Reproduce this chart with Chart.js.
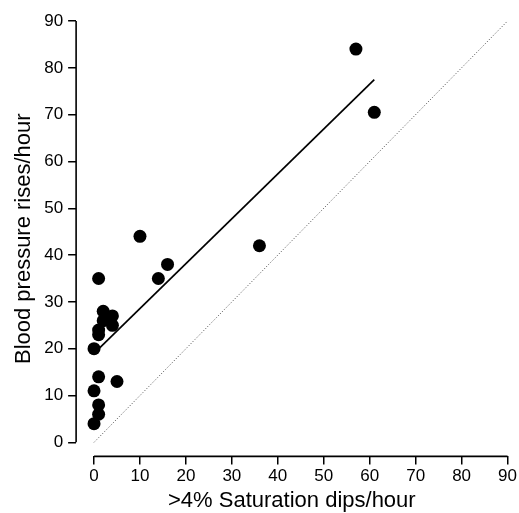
<!DOCTYPE html>
<html>
<head>
<meta charset="utf-8">
<script src="https://cdn.jsdelivr.net/npm/chart.js@4"></script>
<style>
  html, body { margin: 0; padding: 0; background: #fff; }
  #wrap { width: 519px; height: 513px; }
</style>
</head>
<body>
<div id="wrap"><canvas id="chart"></canvas></div>
<script>
// dips/hour vs BP rises/hour
const dips = [1, 2, 4, 4, 2, 1, 1, 0, 1, 5, 0, 1, 1, 0, 14, 16, 10, 36, 57, 61];
const rises = [35, 28, 27, 25, 26, 24, 23, 20, 14, 13, 11, 8, 6, 4, 35, 38, 44, 42, 84, 70.5];

// regression line ends and line of identity
const fitX = [0, 61];
const fitY = [19, 77.5];
const idX = [0, 90];
const idY = [0, 90];

const tickVals = [0, 10, 20, 30, 40, 50, 60, 70, 80, 90];

const toPts = (xs, ys) => xs.map((x, i) => ({x: x, y: ys[i]}));

// axis lines only span 0..90, detached from the data origin
const axisLines = {
  id: 'axisLines',
  afterDraw(chart) {
    const ctx = chart.ctx;
    const xs = chart.scales.x, ys = chart.scales.y;
    const area = chart.chartArea;
    ctx.save();
    ctx.strokeStyle = '#000';
    ctx.lineWidth = 1.6;
    ctx.beginPath();
    ctx.moveTo(xs.getPixelForValue(0), area.bottom);
    ctx.lineTo(xs.getPixelForValue(90), area.bottom);
    ctx.moveTo(area.left, ys.getPixelForValue(0));
    ctx.lineTo(area.left, ys.getPixelForValue(90));
    ctx.stroke();
    ctx.restore();
  }
};

const fixedTicks = scale => { scale.ticks = tickVals.map(v => ({value: v})); };

const tickFont = { family: 'Liberation Sans', size: 17 };
const titleFont = { family: 'Liberation Sans', size: 22, lineHeight: 1.1 };

new Chart(document.getElementById('chart').getContext('2d'), {
  type: 'scatter',
  data: {
    datasets: [
      {
        data: toPts(dips, rises),
        backgroundColor: '#000',
        borderWidth: 0,
        pointRadius: 6.5,
        pointHoverRadius: 6.5
      },
      {
        data: toPts(fitX, fitY),
        showLine: true,
        borderColor: '#000',
        borderWidth: 1.7,
        pointRadius: 0
      },
      {
        data: toPts(idX, idY),
        showLine: true,
        borderColor: '#444',
        borderWidth: 1,
        borderDash: [1, 2],
        pointRadius: 0
      }
    ]
  },
  plugins: [axisLines],
  options: {
    responsive: true,
    maintainAspectRatio: false,
    animation: false,
    layout: { padding: { top: 21, right: -2, bottom: 0, left: 12 } },
    plugins: { legend: { display: false }, tooltip: { enabled: false } },
    scales: {
      x: {
        type: 'linear',
        min: -3.9,
        max: 90,
        afterBuildTicks: fixedTicks,
        grid: { drawOnChartArea: false, drawTicks: true, tickLength: 8, color: '#000', lineWidth: 1.5 },
        border: { display: false },
        ticks: { color: '#000', font: tickFont, padding: 2, maxRotation: 0 },
        title: { display: true, text: '>4% Saturation dips/hour', color: '#000',
                 font: titleFont, padding: { top: 0, bottom: 0 } }
      },
      y: {
        type: 'linear',
        min: -3.0,
        max: 90,
        afterBuildTicks: fixedTicks,
        grid: { drawOnChartArea: false, drawTicks: true, tickLength: 8, color: '#000', lineWidth: 1.5 },
        border: { display: false },
        ticks: { color: '#000', font: tickFont, padding: 5 },
        title: { display: true, text: 'Blood pressure rises/hour', color: '#000',
                 font: titleFont, padding: { top: 0, bottom: 3 } }
      }
    }
  }
});
</script>
</body>
</html>
